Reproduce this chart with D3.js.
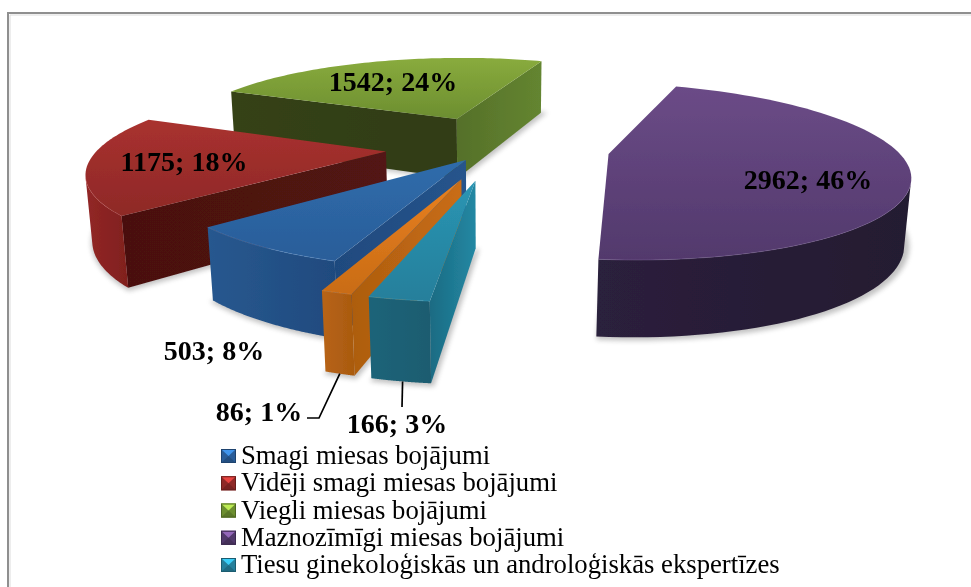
<!DOCTYPE html>
<html><head><meta charset="utf-8">
<script src="https://cdn.jsdelivr.net/npm/d3@7"></script>
<style>html,body{margin:0;background:#fff}svg{display:block}text{font-family:"Liberation Serif",serif;fill:#000}</style></head>
<body><svg id="c" width="971" height="587"></svg>
<script>
const categories=["Smagi miesas bojājumi","Vidēji smagi miesas bojājumi","Viegli miesas bojājumi","Maznozīmīgi miesas bojājumi","Tiesu ginekoloģiskās un androloģiskās ekspertīzes","Citi"];
const values=[503,1175,1542,2962,166,86];
const percents=[8,18,24,46,3,1];
const legendCount=5;

// camera and exploded-pie geometry (fitted to the reference)
const cam={px:492.9059,py:214.4262,f:1403.7845,D:4.2295,t:0.3394};
const pieGeom={phi:3.4932,h:0.2333,X0:0.0161,Y0:0.7112};
const explode=[0.1912,0.3897,0.3899,0.3910,0.3916,0.3882];

const palette=[
 {top:["#2f6cab","#2a5d99"],start:["#1f4a7e","#26548c"],end:["#26548c","#214a7c"],arc:["#28588f","#1f4a7e"],rim:"#5f93cc"},
 {top:["#a9312f","#8e2927"],start:["#4a1110","#521312"],end:["#541412","#4a1110"],arc:["#922726","#801f1e"],rim:"#c25a58"},
 {top:["#89ab3d","#6c8e30"],start:["#354215","#303c13"],end:["#55702a","#648530"],arc:["#5f7f2b","#5f7f2b"],rim:"#a9c765"},
 {top:["#6b4b87","#52396c"],start:["#2a1f3a","#2a1f3a"],end:["#2a1f3a","#2a1f3a"],arc:["#2b203c","#241a31"],rim:"#8a6fa6"},
 {top:["#2a95b3","#257f9b"],start:["#1b6b83","#2388a3"],end:["#20859f","#1a6c85"],arc:["#1d6479","#1b5c70"],rim:"#4db0cc"},
 {top:["#e8801f","#c96c16"],start:["#ad5d10","#c96d14"],end:["#c96d14","#a85c10"],arc:["#b86415","#a95a10"],rim:"#f09a4a"}
];

const labelAt=[[214,360],[184,171],[393,91],[808,189],[397,433],[259,421]];
const leaderFrom=[null,null,null,null,0.47,0.5];
const leaderEnds=[null,null,null,null,[[402,407]],[[319,418],[307,418]]];

const swatch={x:221,w:15,h:14};
const legendY=d3.scaleLinear().domain([0,4]).range([449,558]);

const sl=d3.pie().sort(null).startAngle(pieGeom.phi).endAngle(pieGeom.phi+2*Math.PI)(values);
const mid=i=>(sl[i].startAngle+sl[i].endAngle)/2;
function proj(X,Y,Z){
  const {px,py,f,D,t}=cam;
  const yc=Y*Math.sin(t)+Z*Math.cos(t), zc=D+Y*Math.cos(t)-Z*Math.sin(t);
  return [px+f*X/zc, py-f*yc/zc];
}
function world(i,r,a){
  const m=mid(i);
  return [pieGeom.X0+explode[i]*Math.sin(m)+r*Math.sin(a),pieGeom.Y0+explode[i]*Math.cos(m)+r*Math.cos(a)];
}
const pt=(i,r,a,bottom)=>{const w=world(i,r,a);return proj(w[0],w[1],bottom?-pieGeom.h:0);};
const camPos=[0,-cam.D*Math.cos(cam.t),cam.D*Math.sin(cam.t)];
const faces=(P,n)=>(camPos[0]-P[0])*n[0]+(camPos[1]-P[1])*n[1]>0;

const svg=d3.select("#c");
const defs=svg.append("defs");
defs.append("filter").attr("id","soft").attr("x","-10%").attr("y","-10%").attr("width","120%").attr("height","120%").append("feGaussianBlur").attr("stdDeviation",0.5);
defs.append("filter").attr("id","softText").attr("x","-5%").attr("y","-5%").attr("width","110%").attr("height","110%").append("feGaussianBlur").attr("stdDeviation",0.3);
defs.append("filter").attr("id","shadow").attr("x","-20%").attr("y","-20%").attr("width","140%").attr("height","140%").append("feGaussianBlur").attr("stdDeviation",2.6);
function grad(id,c,horizontal){
  const g=defs.append("linearGradient").attr("id",id).attr("x1",0).attr("y1",0).attr("x2",horizontal?1:0).attr("y2",horizontal?0:1);
  g.append("stop").attr("offset",0).attr("stop-color",c[0]);
  g.append("stop").attr("offset",1).attr("stop-color",c[1]);
  return `url(#${id})`;
}
const line=d3.line();
const arcAngles=i=>d3.range(81).map(k=>sl[i].startAngle+(sl[i].endAngle-sl[i].startAngle)*k/80);

// frame
svg.append("path").attr("d","M8 587V13H971").attr("fill","none").attr("stroke","#8f8f8f").attr("stroke-width",2);
svg.append("path").attr("d","M10 587V15H971").attr("fill","none").attr("stroke","#dcdcdc").attr("stroke-width",1);

// ground shadow
const shadow=svg.append("g").attr("filter","url(#shadow)").attr("opacity",0.36);
sl.forEach((d,i)=>{
  const poly=[pt(i,0,0,true),...arcAngles(i).map(a=>pt(i,1.005,a,true))];
  shadow.append("path").attr("d",line(poly)+"Z").attr("fill","#555").attr("stroke","#555").attr("stroke-width",3).attr("transform","translate(2,1)");
});

// slices, back to front
const order=d3.range(values.length).sort((a,b)=>Math.cos(mid(b))-Math.cos(mid(a)));
const pieG=svg.append("g").attr("filter","url(#soft)");
for(const i of order){
  const g=pieG.append("g");
  const p=palette[i], a0=sl[i].startAngle, a1=sl[i].endAngle, apex=world(i,0,0);
  const wall=(a,n,c,id)=>{
    if(!faces(apex,n))return;
    g.append("path").attr("d",line([pt(i,0,0,false),pt(i,1,a,false),pt(i,1,a,true),pt(i,0,0,true)])+"Z")
     .attr("fill",grad(id,c,true));
  };
  wall(a0,[Math.sin(a0-Math.PI/2),Math.cos(a0-Math.PI/2)],p.start,"s"+i);
  wall(a1,[Math.sin(a1+Math.PI/2),Math.cos(a1+Math.PI/2)],p.end,"e"+i);
  const vis=arcAngles(i).filter(a=>faces(world(i,1,a),[Math.sin(a),Math.cos(a)]));
  if(vis.length>1){
    g.append("path").attr("d",line([...vis.map(a=>pt(i,1,a,false)),...vis.slice().reverse().map(a=>pt(i,1,a,true))])+"Z")
     .attr("fill",grad("a"+i,p.arc,true));
  }
  const rim=arcAngles(i).map(a=>pt(i,1,a,false));
  g.append("path").attr("d",line([pt(i,0,0,false),...rim])+"Z").attr("fill",grad("t"+i,p.top,false));
  if(vis.length>1) g.append("path").attr("d",line(vis.map(a=>pt(i,1,a,false)))).attr("fill","none").attr("stroke",p.rim).attr("stroke-width",1).attr("opacity",0.35);
}

// leader lines
leaderEnds.forEach((e,i)=>{
  if(!e)return;
  const a=sl[i].startAngle+(sl[i].endAngle-sl[i].startAngle)*leaderFrom[i];
  svg.append("path").attr("d",line([pt(i,1,a,true),...e])).attr("fill","none").attr("stroke","#000").attr("stroke-width",1.7);
});

const textG=svg.append("g").attr("filter","url(#softText)");
// data labels
textG.append("g").selectAll("text").data(values).join("text")
 .attr("x",(d,i)=>labelAt[i][0]).attr("y",(d,i)=>labelAt[i][1])
 .attr("text-anchor","middle").attr("font-size",28).attr("font-weight","bold")
 .text((d,i)=>`${d}; ${percents[i]}%`);

// legend
const leg=svg.append("g").selectAll("g").data(categories.slice(0,legendCount)).join("g")
 .attr("transform",(d,i)=>`translate(${swatch.x},${legendY(i)})`);
leg.append("rect").attr("width",swatch.w).attr("height",swatch.h).attr("fill",(d,i)=>palette[i].top[1]);
leg.append("path").attr("d",line([[0,0],[swatch.w,0],[swatch.w/2,swatch.h/2]])+"Z").attr("fill",(d,i)=>d3.color(palette[i].top[0]).brighter(0.9));
leg.append("path").attr("d",line([[0,swatch.h],[swatch.w,swatch.h],[swatch.w/2,swatch.h/2]])+"Z").attr("fill",(d,i)=>d3.color(palette[i].top[1]).darker(0.5));
leg.append("rect").attr("width",swatch.w-1).attr("height",swatch.h-1).attr("x",.5).attr("y",.5).attr("fill","none").attr("stroke",(d,i)=>d3.color(palette[i].top[1]).darker(0.9)).attr("stroke-width",1);
textG.append("g").selectAll("text").data(categories.slice(0,legendCount)).join("text")
 .attr("x",swatch.x+20).attr("y",(d,i)=>legendY(i)+15).attr("font-size",26.7).text(d=>d);
</script></body></html>
